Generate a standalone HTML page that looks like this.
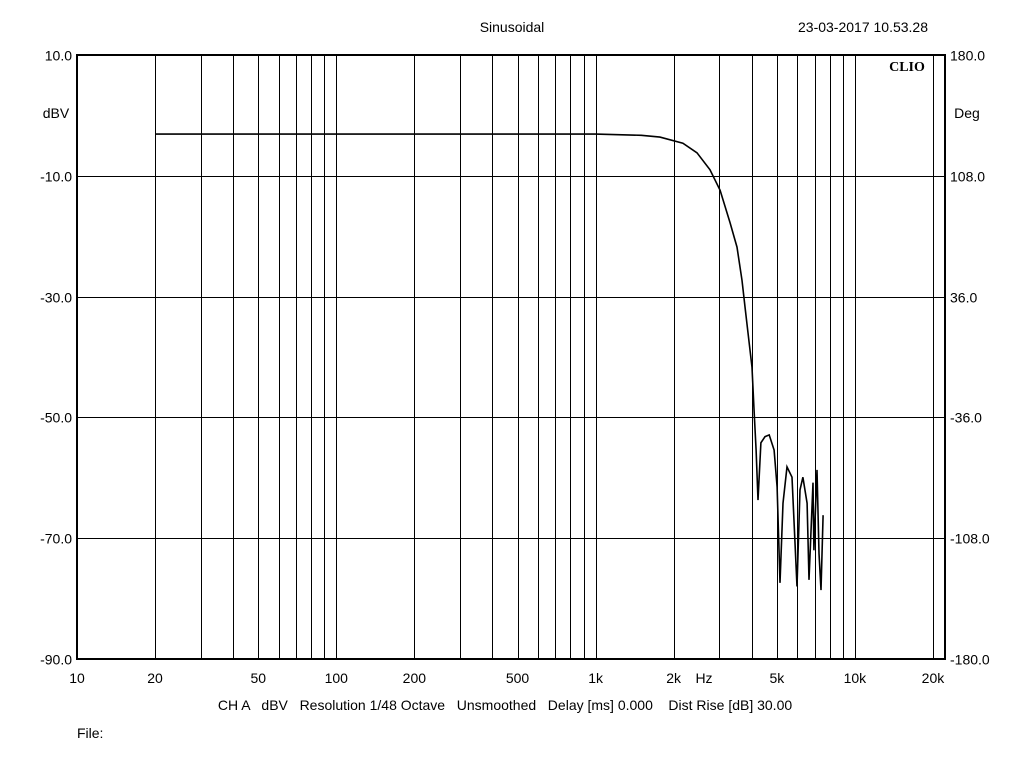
<!DOCTYPE html>
<html><head><meta charset="utf-8"><style>
body{margin:0;background:#fff;width:1024px;height:768px;overflow:hidden;font-family:"Liberation Sans",sans-serif}
svg text{font-family:"Liberation Sans",sans-serif;font-size:14px;fill:#000;white-space:pre}
</style></head><body>
<svg id="chart" width="1024" height="768" xmlns="http://www.w3.org/2000/svg">
<g id="grid"></g>
<g id="labels"></g>
<path id="curve" fill="none" stroke="#000" stroke-width="1.6"/>
<rect x="77" y="55" width="868" height="604" fill="none" stroke="#000" stroke-width="2"/>
<text x="512" y="32" text-anchor="middle">Sinusoidal</text>
<text x="863" y="32" text-anchor="middle">23-03-2017 10.53.28</text>
<text x="907" y="71" text-anchor="middle" style="font-family:'Liberation Serif',serif;font-weight:bold;font-size:14px">CLIO</text>
<text x="56" y="118" text-anchor="middle">dBV</text>
<text x="967" y="118" text-anchor="middle">Deg</text>
<text x="704" y="683" text-anchor="middle">Hz</text>
<text x="505" y="710" text-anchor="middle" xml:space="preserve">CH A   dBV   Resolution 1/48 Octave   Unsmoothed   Delay [ms] 0.000    Dist Rise [dB] 30.00</text>
<text x="77" y="738">File:</text>
</svg>
<script>
const freqs=[20,100,300,400,500,700,1000,1500,1770,2172,2460,2762,3020,3300,3510,3670,3770,3870,4010,4080,4160,4230,4340,4500,4670,4880,5010,5140,5280,5470,5720,5980,6140,6300,6540,6650,6890,6950,7140,7270,7400,7540];
const dbv=[-3.1,-3.1,-3.1,-3.1,-3.1,-3.1,-3.1,-3.3,-3.6,-4.6,-6.2,-9.0,-12.4,-17.8,-21.8,-27.3,-31.7,-36.0,-41.7,-48.3,-55.4,-63.7,-54.2,-53.2,-52.9,-55.4,-61.5,-77.4,-64.2,-58.2,-59.9,-78.0,-62.0,-59.9,-64.2,-76.9,-60.8,-72.0,-58.7,-72.5,-78.6,-66.2];
const leftTicks=[10,-10,-30,-50,-70,-90];
const rightTicks=["180.0","108.0","36.0","-36.0","-108.0","-180.0"];
const xTickVals=[10,20,50,100,200,500,1000,2000,5000,10000,20000];
const xTickText=["10","20","50","100","200","500","1k","2k","5k","10k","20k"];
const X=f=>77+(Math.log10(f)-1)*259.3;
const Y=d=>55+(10-d)*6.04;
const NS="http://www.w3.org/2000/svg";
const grid=document.getElementById('grid'),labels=document.getElementById('labels');
function line(x1,y1,x2,y2){const l=document.createElementNS(NS,'line');l.setAttribute('x1',x1);l.setAttribute('y1',y1);l.setAttribute('x2',x2);l.setAttribute('y2',y2);l.setAttribute('stroke','#000');l.setAttribute('stroke-width','1');


grid.appendChild(l);}
function text(x,y,s,a){const t=document.createElementNS(NS,'text');t.setAttribute('x',x);t.setAttribute('y',y);t.setAttribute('text-anchor',a);t.textContent=s;


labels.appendChild(t);}
for(let dec=10;dec<20000;dec*=10)for(let m=1;m<10;m++){const f=dec*m;if(f>20000)break;const x=Math.round(X(f))+0.5;line(x,55,x,659);}
leftTicks.forEach((d,i)=>{const y=Math.round(Y(d))+0.5;line(77,y,945,y);text(72,y+5,d.toFixed(1),'end');text(950,y+5,rightTicks[i],'start');});
xTickVals.forEach((f,i)=>text(X(f),683,xTickText[i],'middle'));
document.getElementById('curve').setAttribute('d',freqs.map((f,i)=>(i?'L':'M')+X(f).toFixed(1)+','+Y(dbv[i]).toFixed(1)).join(''));
</script>
</body></html>
